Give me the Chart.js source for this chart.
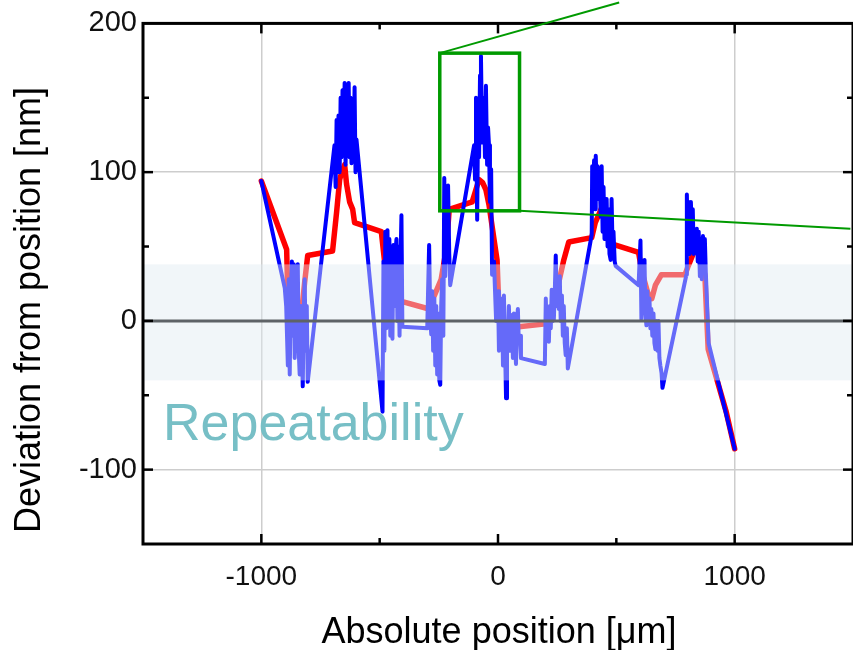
<!DOCTYPE html>
<html>
<head>
<meta charset="utf-8">
<script src="https://cdn.jsdelivr.net/npm/chart.js@4.4.0/dist/chart.umd.min.js"></script>
<style>
  html, body { margin: 0; padding: 0; background: #fff; }
</style>
</head>
<body>
<canvas id="chart" width="853" height="650"></canvas>
<script>
// Raw deviation readings, grouped by scan cluster
const blueX = [
  -1000, -901,
  -895, -888, -884, -880, -876, -871, -867, -863, -859, -855, -850, -846, -842, -838, -833, -829, -825, -821, -817, -812, -808, -804,
  -691, -686, -682, -678, -674, -669, -665, -661, -657, -652, -648, -644, -640, -636, -631, -627, -623, -619, -614, -610, -606, -602, -598,
  -488, -484, -480, -476, -472, -467, -463, -459, -455, -450, -446, -442, -438, -434, -429, -425, -421, -416, -412, -408, -404,
  -299, -291, -286, -282, -278, -274, -269, -265, -261, -257, -253, -248, -244, -240, -236, -231, -227, -223, -219, -215, -211, -206, -202,
  -101, -97, -93, -88, -84, -80, -76, -72, -67, -63, -59, -55, -51, -46, -42, -38, -34, -29, -25,
  -17, -8, 0, 4, 8, 13, 17, 21, 25, 30, 34, 38, 42, 46, 51, 55, 59, 63, 67, 72, 76, 80, 84, 88, 93, 97,
  198, 202, 206, 211, 215, 219, 223, 227, 232, 236, 240, 244, 248, 253, 257, 261, 265, 270, 274, 278, 282, 286, 291, 295,
  396, 398, 402, 406, 410, 413, 417, 421, 425, 429, 434, 438, 442, 446, 450, 455, 459, 463, 467, 471, 476, 480, 484, 488, 493, 497,
  594, 602, 606, 610, 615, 619, 623, 627, 631, 636, 640, 644, 648, 652, 657, 661, 665, 669, 674, 678, 682, 686, 691, 695,
  796, 798, 802, 806, 810, 815, 819, 823, 827, 832, 836, 840, 844, 848, 853, 857, 861, 866, 870, 874, 878,
  890, 1000
];
const blueY = [
  94, 22,
  10, -30, 28, -36, 15, 40, -10, 38, -25, 20, -5, 38, -20, -36, 10, -15, -44, 5, 28, -20, 10, -41,
  118, 90, 135, 100, 138, 100, 150, 110, 155, 120, 160, 105, 140, 120, 160, 110, 150, 106, 145, 115, 157, 100, 122,
  -61, 40, -20, 60, -5, 61, 0, 55, -10, 40, -12, 51, 10, 45, 55, 0, 50, -10, 40, 71, -4,
  -5, 51, 0, -9, 20, -20, 15, -30, 10, -36, 5, -40, -43, 10, 28, -10, 96, 30, 88, 40, 91, 45, 24,
  118, 95, 150, 68, 140, 110, 165, 178, 120, 150, 142, 110, 158, 105, 130, 118, 80, 102, 31,
  40, 0, 20, -20, 10, -14, 15, -30, 17, -20, -52, 0, -15, 10, -20, 0, 4, -25, 5, -15, -29, 0, 8, -15, -10, -25,
  -29, 15, -10, 5, -14, 10, -5, 21, 0, 1, 20, 44, 10, 25, 8, 30, 0, 17, -10, 10, -15, -23, -5, -32,
  58, 104, 85, 108, 75, 111, 90, 104, 82, 100, 70, 104, 60, 90, 55, 71, 82, 50, 75, 45, 41, 82, 50, 60, 40, 37,
  24, 54, 1, 30, 10, 41, 5, -3, 20, 0, 15, -5, 8, -10, 5, -15, -19, 0, -20, 0, -25, -30, -35, -45,
  31, 85, 50, 80, 45, 80, 60, 75, 45, 55, 51, 62, 40, 60, 30, 55, 28, 57, 40, 55, 33,
  -15, -86
];

// Averaged deviation
const redX = [
  -1000, -893, -888, -870, -851, -840, -829, -817, -804, -699, -682, -669, -660, -648, -640, -627, -614, -606,
  -493, -480, -465, -451, -440, -429, -404, -291, -269, -240, -219, -206, -109, -88, -80, -65, -51, -38, -17, -4,
  4, 20, 34, 50, 67, 88, 202, 228, 257, 278, 299, 396, 411, 438, 450, 459, 480, 497,
  594, 608, 636, 650, 665, 690, 790, 804, 832, 845, 860, 874, 888, 964, 1000
];
const redY = [
  94, 48, 15, 5, 1, 3, 7, 26, 44, 47, 73, 95, 100, 105, 92, 80, 75, 66,
  60, 41, 25, 17, 20, 19, 13, 8, 17, 28, 48, 75, 80, 91, 95, 93, 88, 78, 55, 41,
  8, -2, -5, -8, -9, -4, -2, 8, 26, 41, 53, 56, 66, 76, 74, 66, 51, 51,
  46, 33, 17, 15, 24, 31, 31, 37, 48, 48, 37, 31, -19, -61, -86
];

const xTicks = [-1000, 0, 1000];
const xMinor = [-500, 500];
const yTicks = [-100, 0, 100, 200];
const yMinor = [-50, 50, 150];

// repeatability band (nm) and the zoomed region marker
const bandRange = [-40, 38];
const zoomBoxX = [-246, 91];
const zoomBoxY = [74, 180];
const connectorEnds = [[512, 214], [1489, 62]];

const FONT = '"Liberation Sans", Arial, Helvetica, sans-serif';

function toPoints(xs, ys) {
  return xs.map((v, i) => ({ x: v, y: ys[i] }));
}

function seg(ctx, x1, y1, x2, y2) {
  ctx.beginPath();
  ctx.moveTo(x1, y1);
  ctx.lineTo(x2, y2);
  ctx.stroke();
}

const overlay = {
  id: 'overlay',
  afterDatasetsDraw(chart) {
    const { ctx, chartArea: a, scales: { x, y } } = chart;
    ctx.save();

    // band washes out the traces below it
    const bTop = y.getPixelForValue(bandRange[1]);
    const bBot = y.getPixelForValue(bandRange[0]);
    ctx.fillStyle = 'rgba(224,235,242,0.45)';
    ctx.fillRect(a.left, bTop, a.right - a.left, bBot - bTop);

    // zero line
    const y0 = y.getPixelForValue(0);
    ctx.strokeStyle = '#5e6367';
    ctx.lineWidth = 3;
    seg(ctx, a.left, y0, a.right, y0);

    // frame with inward ticks
    ctx.strokeStyle = '#000';
    ctx.lineWidth = 3;
    ctx.strokeRect(a.left, a.top, a.right - a.left, a.bottom - a.top);
    ctx.lineWidth = 2.5;
    const tick = (vals, len) => {
      vals.forEach(v => {
        const px = x.getPixelForValue(v);
        seg(ctx, px, a.bottom, px, a.bottom - len);
        seg(ctx, px, a.top, px, a.top + len);
      });
    };
    const tickY = (vals, len) => {
      vals.forEach(v => {
        const py = y.getPixelForValue(v);
        seg(ctx, a.left, py, a.left + len, py);
        seg(ctx, a.right, py, a.right - len, py);
      });
    };
    tick(xTicks, 10);
    tick(xMinor, 6);
    tickY(yTicks.filter(v => v < 200), 10);
    tickY(yMinor, 6);

    // zoom marker
    const gx1 = x.getPixelForValue(zoomBoxX[0]);
    const gx2 = x.getPixelForValue(zoomBoxX[1]);
    const gy1 = y.getPixelForValue(zoomBoxY[1]);
    const gy2 = y.getPixelForValue(zoomBoxY[0]);
    ctx.strokeStyle = '#009a00';
    ctx.lineWidth = 2;
    seg(ctx, gx1, gy1, x.getPixelForValue(connectorEnds[0][0]), y.getPixelForValue(connectorEnds[0][1]));
    seg(ctx, gx2, gy2, x.getPixelForValue(connectorEnds[1][0]), y.getPixelForValue(connectorEnds[1][1]));
    ctx.lineWidth = 3.5;
    ctx.strokeRect(gx1, gy1, gx2 - gx1, gy2 - gy1);

    // band label
    ctx.fillStyle = '#77bfc6';
    ctx.font = '52px ' + FONT;
    ctx.textAlign = 'left';
    ctx.textBaseline = 'alphabetic';
    ctx.fillText('Repeatability', 163, 440);

    // axis titles
    ctx.fillStyle = '#000';
    ctx.font = '36px ' + FONT;
    ctx.textAlign = 'center';
    ctx.textBaseline = 'middle';
    ctx.fillText('Absolute position [μm]', 499, 633);
    ctx.translate(30, 310);
    ctx.rotate(-Math.PI / 2);
    ctx.fillText('Deviation from position [nm]', 0, 0);

    ctx.restore();
  }
};

const gridColor = c => (c.tick && c.tick.value === 0) ? 'rgba(0,0,0,0)' : '#cdcdcd';

new Chart(document.getElementById('chart'), {
  type: 'line',
  data: {
    datasets: [
      {
        data: toPoints(blueX, blueY),
        borderColor: '#0000ff',
        borderWidth: 4,
        pointRadius: 0,
        tension: 0,
        borderJoinStyle: 'round',
        borderCapStyle: 'round'
      },
      {
        data: toPoints(redX, redY),
        borderColor: '#ff0000',
        borderWidth: 5.5,
        pointRadius: 0,
        tension: 0,
        borderJoinStyle: 'round',
        borderCapStyle: 'round'
      }
    ]
  },
  options: {
    responsive: false,
    animation: false,
    devicePixelRatio: 1,
    layout: { padding: { top: 20, right: -3, left: 0, bottom: 0 } },
    plugins: { legend: { display: false }, tooltip: { enabled: false } },
    scales: {
      x: {
        type: 'linear',
        min: -1500,
        max: 1500,
        afterBuildTicks: s => { s.ticks = xTicks.map(v => ({ value: v })); },
        afterFit: s => { s.height = 106; },
        border: { display: false },
        grid: { color: gridColor, lineWidth: 1.5, drawTicks: false },
        ticks: { font: { family: FONT, size: 28 }, color: '#111', padding: 16, callback: v => String(v) }
      },
      y: {
        type: 'linear',
        min: -150,
        max: 200,
        afterBuildTicks: s => { s.ticks = yTicks.map(v => ({ value: v })); },
        afterFit: s => { s.width = 143; },
        border: { display: false },
        grid: { color: gridColor, lineWidth: 1.5, drawTicks: false },
        ticks: { font: { family: FONT, size: 29 }, color: '#111', padding: 6, callback: v => String(v) }
      }
    }
  },
  plugins: [overlay]
});
</script>
</body>
</html>
